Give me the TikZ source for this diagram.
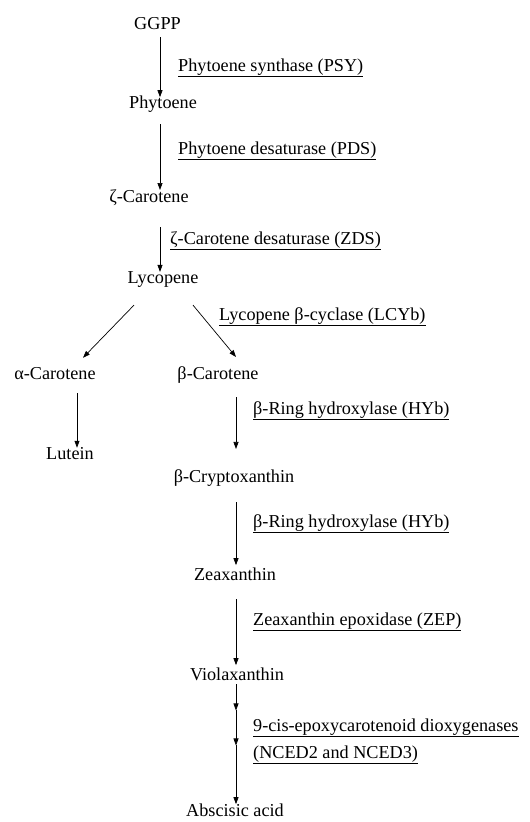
\documentclass[tikz,border=0pt]{standalone}
\usepackage{fontspec}
\setmainfont{Liberation Serif}
\usetikzlibrary{arrows.meta}
\begin{document}
\begin{tikzpicture}[x=1pt,y=-1pt,
	every node/.style={inner sep=0pt,font=\fontsize{18.2}{21}\selectfont},
	mol/.style={anchor=base},
	enz/.style={anchor=base west},
	arr/.style={-{Triangle[length=7pt,width=5pt]},line width=0.7pt}]
		\useasboundingbox (0,0) rectangle (530,822);
		% columns of the arrows
		\coordinate (c1) at (160,0);
		\coordinate (c2) at (236,0);
		\coordinate (c3) at (77,0);
		% main chain
		\node[mol] (ggpp) at (157.5,29) {GGPP};
		\node[mol] (phy) at (163,108) {Phytoene};
		\node[mol] (zcar) at (149,202) {ζ-Carotene};
		\node[mol] (lyc) at (163,283) {Lycopene};
		\node[mol] (acar) at (55,379) {α-Carotene};
		\node[mol] (bcar) at (218,379) {β-Carotene};
		\node[mol] (lut) at (70,459) {Lutein};
		\node[mol] (bcry) at (234,482) {β-Cryptoxanthin};
		\node[mol] (zea) at (235,580) {Zeaxanthin};
		\node[mol] (vio) at (237,680) {Violaxanthin};
		\node[mol] (aba) at (235,816) {Abscisic acid};
		% enzymes
		\node[enz] (psy) at (178,71) {\underline{Phytoene synthase (PSY)}};
		\node[enz] (pds) at (178,154) {\underline{Phytoene desaturase (PDS)}};
		\node[enz] (zds) at (170,244) {\underline{ζ-Carotene desaturase (ZDS)}};
		\node[enz] (lcyb) at (219,320) {\underline{Lycopene β-cyclase (LCYb)}};
		\node[enz] (hyb1) at (253,414) {\underline{β-Ring hydroxylase (HYb)}};
		\node[enz] (hyb2) at (253,527) {\underline{β-Ring hydroxylase (HYb)}};
		\node[enz] (zep) at (253,625) {\underline{Zeaxanthin epoxidase (ZEP)}};
		\node[enz] (nced) at (253,731) {\underline{9-cis-epoxycarotenoid dioxygenases}};
		\node[enz] (nced2) at (253,758) {\underline{(NCED2 and NCED3)}};
		% steps
		\draw[arr] ([yshift=-8pt]ggpp.south -| c1) -- ([yshift=-2pt]phy.north -| c1);
		\draw[arr] ([yshift=-12pt]phy.south -| c1) -- ([yshift=-1pt]zcar.north -| c1);
		\draw[arr] ([yshift=-22pt]zcar.south -| c1) -- ([yshift=-1pt]lyc.north -| c1);
		\draw[arr] ([xshift=-29pt,yshift=-18pt]lyc.south) -- ([xshift=28pt,yshift=9pt]acar.north);
		\draw[arr] ([xshift=30pt,yshift=-18pt]lyc.south) -- ([yshift=9pt]bcar.north -| c2);
		\draw[arr] ([yshift=-14pt]acar.south -| c3) -- ([yshift=-1pt]lut.north -| c3);
		\draw[arr] ([yshift=-14pt]bcar.south -| c2) -- ([yshift=20pt]bcry.north -| c2);
		\draw[arr] ([yshift=-16pt]bcry.south -| c2) -- ([yshift=2pt]zea.north -| c2);
		\draw[arr] ([yshift=-19pt]zea.south -| c2) -- ([yshift=2pt]vio.north -| c2);
		\coordinate (n1) at ([yshift=-30pt]vio.south -| c2);
		\coordinate (n2) at ([yshift=-65pt]vio.south -| c2);
		\draw[arr] ([yshift=-4pt]vio.south -| c2) -- (n1);
		\draw[arr] (n1) -- (n2);
		\draw[arr] (n2) -- ([yshift=-1pt]aba.north -| c2);
\end{tikzpicture}
\end{document}
